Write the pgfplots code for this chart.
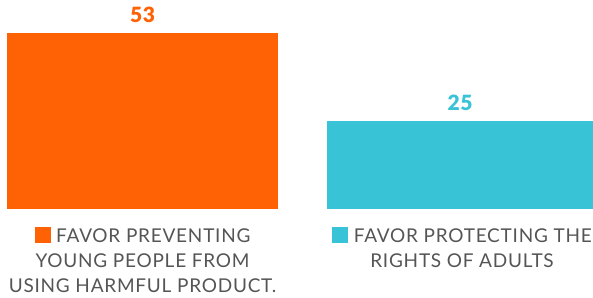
\documentclass[border=0pt]{standalone}
\usepackage{fontspec}
\setmainfont{Lato}
\newfontfamily\labelfont[LetterSpace=4]{Lato}
\newfontfamily\numfont[LetterSpace=3]{Lato Black}
\usepackage{pgfplots}
\pgfplotsset{compat=1.18}
\definecolor{cOrange}{HTML}{FF6105}
\definecolor{cTeal}{HTML}{38C3D6}
\definecolor{cText}{HTML}{555555}
\begin{document}
\begin{tikzpicture}
\path[use as bounding box] (0,-88pt) rectangle (593pt,209pt);
\begin{axis}[
  at={(0,0)}, anchor=origin,
  scale only axis, width=593pt, height=209pt,
  xmin=0, xmax=593, ymin=0, ymax=66.5,
  axis lines=none, clip=false,
  ybar, bar shift=0pt,
  xtick=\empty, ytick=\empty,
  point meta=explicit symbolic,
  nodes near coords,
  nodes near coords style={font=\fontsize{21}{24}\numfont, anchor=south, inner sep=0pt, yshift=10.5pt},
]
% plotted height = value + 3 (the bars in the reference start below zero)
\addplot[fill=cOrange, draw=none, bar width=271pt, nodes near coords style={text=cOrange}] coordinates {(142.5,56) [53]};
\addplot[fill=cTeal, draw=none, bar width=266pt, nodes near coords style={text=cTeal}] coordinates {(460,28) [25]};
\node[text=cText, font=\fontsize{19}{25}\labelfont, align=center, anchor=north, inner sep=0pt] at (axis cs:142.5,-5.6) {\textcolor{cOrange}{\rule{16pt}{16pt}} FAVOR PREVENTING\\YOUNG PEOPLE FROM\\USING HARMFUL PRODUCT.};
\node[text=cText, font=\fontsize{19}{25}\labelfont, align=center, anchor=north, inner sep=0pt] at (axis cs:462,-5.6) {\textcolor{cTeal}{\rule{16pt}{16pt}} FAVOR PROTECTING THE\\RIGHTS OF ADULTS};
\end{axis}
\end{tikzpicture}
\end{document}
